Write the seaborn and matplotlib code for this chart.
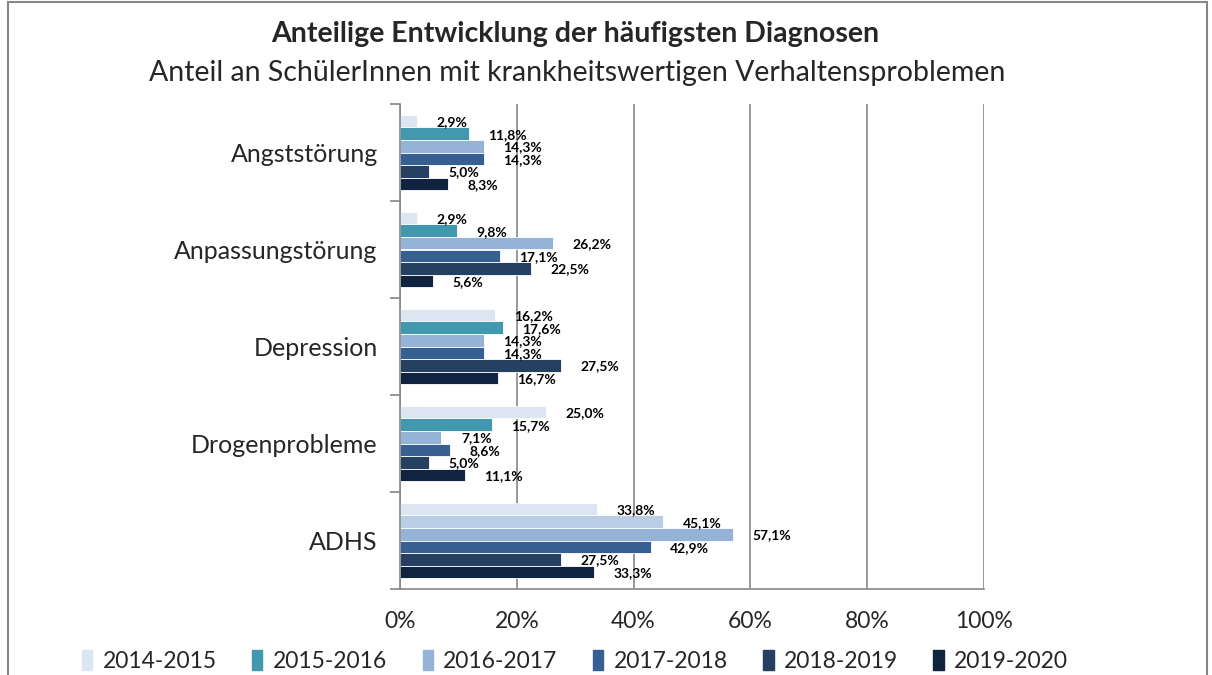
import matplotlib
matplotlib.use("Agg")
import matplotlib.pyplot as plt
import matplotlib.patches as mpatches
import seaborn as sns
import pandas as pd

# data (percent)
diagnosen = ["Angststörung", "Anpassungstörung", "Depression", "Drogenprobleme", "ADHS"]
jahre = ["2014-2015", "2015-2016", "2016-2017", "2017-2018", "2018-2019", "2019-2020"]
w_2014 = [2.9, 2.9, 16.2, 25.0, 33.8]
w_2015 = [11.8, 9.8, 17.6, 15.7, 45.1]
w_2016 = [14.3, 26.2, 14.3, 7.1, 57.1]
w_2017 = [14.3, 17.1, 14.3, 8.6, 42.9]
w_2018 = [5.0, 22.5, 27.5, 5.0, 27.5]
w_2019 = [8.3, 5.6, 16.7, 11.1, 33.3]
farben = ["#DCE6F2", "#4198AF", "#95B3D7", "#376092", "#254061", "#10243F"]

rows = []
for jahr, werte in zip(jahre, [w_2014, w_2015, w_2016, w_2017, w_2018, w_2019]):
    for d, v in zip(diagnosen, werte):
        rows.append({"Diagnose": d, "Jahr": jahr, "Anteil": v / 100})
df = pd.DataFrame(rows)

sns.set_theme(style="white")
plt.rcParams["font.family"] = ["Lato", "DejaVu Sans"]

fig = plt.figure(figsize=(12.12, 6.75), dpi=100)
ax = fig.add_axes([400 / 1212, 1 - 589 / 675, 584 / 1212, 485 / 675])

sns.barplot(data=df, y="Diagnose", x="Anteil", hue="Jahr", order=diagnosen,
            hue_order=jahre, palette=farben, saturation=1, orient="h", width=0.78,
            edgecolor="white", linewidth=0.6, ax=ax, legend=False)

# ADHS bar of 2015-2016 is drawn in a lighter blue in the original
for bar, lab in zip(ax.patches, [(j, d) for j in jahre for d in diagnosen]):
    if lab == ("2015-2016", "ADHS"):
        bar.set_facecolor("#B9CDE5")

for cont in ax.containers:
    labels = [f"{b.get_width() * 100:.1f}".replace(".", ",") + "%" for b in cont]
    txts = ax.bar_label(cont, labels=labels, padding=14, fontsize=10, fontweight="bold",
                        color="black")
    for t in txts:
        t.set_verticalalignment("center_baseline")

ax.set_xlim(0, 1)
ax.set_xticks([0, 0.2, 0.4, 0.6, 0.8, 1.0])
ax.set_xticklabels(["0%", "20%", "40%", "60%", "80%", "100%"], fontsize=16.5)
ax.set_yticks([0, 1, 2, 3, 4])
ax.set_yticklabels(diagnosen, fontsize=18)
ax.set_yticks([-0.5, 0.5, 1.5, 2.5, 3.5, 4.5], minor=True)
ax.set_ylim(4.5, -0.5)
ax.set_xlabel("")
ax.set_ylabel("")
ax.grid(axis="x", color="#868686", linewidth=1.2)
ax.set_axisbelow(True)
for s in ["top", "right"]:
    ax.spines[s].set_visible(False)
for s in ["left", "bottom"]:
    ax.spines[s].set_color("#868686")
    ax.spines[s].set_linewidth(1.2)
ax.tick_params(axis="x", which="major", length=8, color="#868686", width=1.2, pad=8)
ax.tick_params(axis="y", which="major", length=0, pad=16)
ax.tick_params(axis="y", which="minor", length=7, color="#868686", width=1.2, left=True)

handles = [mpatches.Patch(color=c, label=j) for c, j in zip(farben, jahre)]
fig.legend(handles=handles, loc="center", bbox_to_anchor=(575 / 1212, 1 - 661 / 675),
           ncol=6, frameon=False, fontsize=16.5, handlelength=0.45, handleheight=1.0,
           handletextpad=0.45, columnspacing=1.55)

fig.text(575 / 1212, 1 - 34 / 675, "Anteilige Entwicklung der häufigsten Diagnosen",
         ha="center", va="center", fontsize=20.5, fontweight="bold")
fig.text(577 / 1212, 1 - 73 / 675,
         "Anteil an SchülerInnen mit krankheitswertigen Verhaltensproblemen",
         ha="center", va="center", fontsize=20.5)

# outer chart frame
fig.patches.append(mpatches.Rectangle((8 / 1212, -0.05), 1199 / 1212, 1.05 - 2 / 675,
                                      transform=fig.transFigure, fill=False,
                                      edgecolor="#868686", linewidth=1.5))

fig.savefig("out.png", dpi=100)
